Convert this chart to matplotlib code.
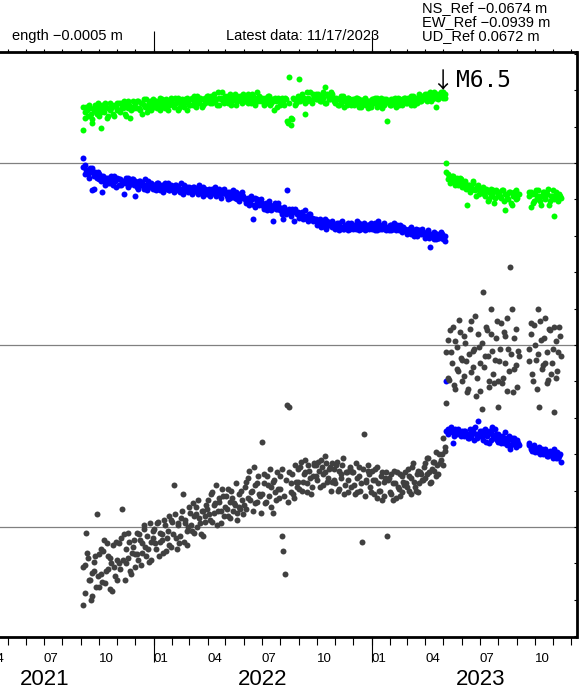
import numpy as np
import pandas as pd
import matplotlib
matplotlib.use("Agg")
import matplotlib.pyplot as plt
import matplotlib.dates as mdates
from matplotlib.ticker import NullFormatter, FuncFormatter
from matplotlib.transforms import blended_transform_factory, offset_copy

plt.rcParams['font.family'] = ['Liberation Sans', 'DejaVu Sans']

# daily solutions, two interleaved every-3rd-day samples
# (values in mm, chart offsets included)
pre_start, pre_start_b = "2021-09-04", "2021-09-05"
post_start, post_start_b = "2023-05-05", "2023-05-06"
late_start, late_start_b = "2023-09-21", "2023-09-22"
quake_day = "2023-05-05"

green_pre = [
    21.8, 22.8, 23.1, 22.6, 23.0, 22.2, 22.9, 23.2, 22.7, 23.0,
    21.9, 23.2, 22.8, 23.1, 22.6, 23.3, 23.0, 22.7, 23.2, 22.9,
    23.3, 22.8, 23.1, 23.4, 22.6, 23.0, 23.2, 22.9, 23.4, 23.1,
    23.0, 23.4, 22.9, 23.3, 23.5, 23.1, 22.8, 23.3, 23.2, 23.5,
    23.1, 23.4, 23.2, 22.9, 23.5, 23.3, 23.0, 23.4, 23.2, 23.6,
    23.5, 23.1, 23.3, 23.6, 23.0, 23.4, 23.2, 23.5, 22.9, 23.3,
    23.2, 23.6, 23.4, 23.1, 23.7, 23.3, 23.5, 23.2, 23.6, 23.4,
    23.7, 23.3, 23.5, 23.8, 23.4, 23.2, 23.6, 23.5, 23.9, 23.3,
    23.4, 23.7, 23.5, 23.2, 23.6, 23.8, 23.4, 23.5, 23.7, 23.3,
    23.6, 23.4, 23.8, 23.5, 23.3, 23.7, 23.5, 23.9, 23.4, 23.6,
    23.5, 23.2, 23.6, 23.4, 23.7, 23.3, 23.5, 22.9, 23.4, 23.6,
    23.2, 23.5, 23.3, 23.6, 22.3, 24.7, 22.1, 22.4, 23.5, 23.3,
    23.4, 24.6, 23.7, 23.5, 22.7, 23.4, 23.6, 23.9, 23.3, 23.7,
    23.8, 23.5, 23.7, 23.4, 23.9, 24.2, 23.3, 23.7, 23.5, 23.8,
    23.6, 23.3, 23.5, 23.2, 23.7, 23.4, 23.1, 23.5, 23.6, 23.3,
    23.2, 23.5, 23.3, 23.6, 23.1, 23.4, 23.2, 23.5, 23.3, 23.0,
    23.4, 23.1, 23.5, 23.3, 23.6, 23.2, 23.4, 23.0, 23.5, 23.3,
    22.3, 23.4, 23.2, 23.5, 23.3, 23.1, 23.6, 23.4, 23.2, 23.5,
    23.6, 23.3, 23.5, 23.7, 23.4, 23.2, 23.6, 23.5, 23.8, 23.4,
    23.5, 23.8, 23.4, 23.7, 23.9, 23.5, 23.6, 23.1, 23.8, 23.7,
    23.9, 23.6, 23.8,
]
green_pre_b = [
    23.1, 22.5, 22.9, 23.2, 22.7, 22.4, 23.0, 22.8, 23.3, 22.6,
    22.8, 23.1, 23.3, 22.5, 23.0, 22.9, 23.2, 22.6, 23.1, 23.3,
    22.9, 23.3, 23.0, 22.7, 23.2, 23.4, 22.5, 23.1, 23.0, 23.3,
    23.4, 23.0, 23.3, 22.7, 23.2, 23.5, 23.1, 23.4, 22.9, 23.2,
    23.4, 23.0, 23.3, 23.6, 23.1, 23.2, 23.5, 22.9, 23.3, 23.4,
    23.2, 23.6, 23.4, 22.9, 23.3, 23.5, 23.1, 23.4, 23.6, 23.2,
    23.5, 23.2, 23.7, 23.4, 23.3, 23.6, 23.1, 23.5, 23.3, 23.7,
    23.4, 23.7, 23.3, 23.6, 23.5, 23.9, 23.2, 23.6, 23.4, 23.7,
    23.6, 23.3, 23.8, 23.4, 23.5, 23.2, 23.7, 23.6, 23.4, 23.8,
    23.4, 23.7, 23.3, 23.6, 23.8, 23.4, 23.2, 23.6, 23.7, 23.4,
    23.6, 23.4, 23.3, 23.7, 23.2, 23.5, 23.4, 23.6, 23.1, 23.5,
    23.4, 23.6, 23.2, 23.5, 22.2, 23.3, 22.5, 23.6, 23.2, 23.5,
    23.7, 23.4, 23.8, 23.6, 23.3, 23.9, 23.5, 23.4, 23.8, 23.6,
    23.5, 23.8, 23.4, 23.7, 23.6, 23.3, 23.8, 23.5, 23.9, 23.6,
    23.4, 23.6, 23.2, 23.5, 23.3, 23.7, 23.4, 23.2, 23.6, 23.5,
    23.4, 23.2, 23.6, 23.3, 23.5, 23.1, 23.4, 23.6, 23.2, 23.4,
    23.2, 23.5, 23.3, 23.6, 23.1, 23.4, 23.6, 23.3, 23.2, 23.5,
    23.4, 23.2, 23.5, 23.3, 23.6, 23.4, 23.2, 23.5, 23.3, 23.6,
    23.3, 23.6, 23.4, 23.2, 23.7, 23.5, 23.3, 23.6, 23.4, 23.7,
    23.7, 23.5, 23.8, 23.6, 23.4, 23.7, 23.9, 23.6, 23.5, 23.8,
    23.7, 23.9, 23.6,
]
green_post = [
    20.0, 19.4, 19.2, 19.0, 19.3, 18.9, 19.1, 18.8, 19.2, 18.9,
    18.7, 19.0, 17.7, 18.8, 18.5, 18.9, 18.6, 18.2, 18.8, 18.5,
    18.4, 18.7, 18.2, 18.5, 18.0, 18.6, 18.3, 17.8, 18.5, 18.2,
    18.4, 18.1, 18.5, 17.4, 18.3, 18.0, 18.4, 17.7, 18.2, 18.5,
    18.1, 18.3,
]
green_post_b = [
    19.5, 19.1, 18.9, 19.3, 19.0, 18.8, 19.2, 18.9, 19.1, 18.7,
    18.9, 18.6, 18.8, 18.4, 18.7, 19.0, 18.5, 18.7, 18.3, 18.6,
    18.5, 18.3, 18.6, 17.9, 18.4, 18.2, 18.5, 18.1, 18.4, 18.3,
    18.2, 18.5, 17.9, 18.3, 18.1, 18.4, 17.8, 18.2, 18.4, 18.0,
    18.3,
]
green_late = [
    18.4, 17.6, 18.3, 17.9, 18.5, 18.0, 18.2, 17.7, 18.4, 18.1,
    18.3, 18.6, 17.9, 18.2, 17.1, 18.4, 18.0, 18.3, 18.1,
]
green_late_b = [
    18.2, 18.4, 17.8, 18.3, 18.1, 18.5, 17.9, 18.2, 18.4, 18.0,
    18.3, 17.7, 18.2, 18.5, 18.0, 18.3, 17.9, 18.2,
]

blue_pre = [
    20.3, 19.9, 19.6, 19.4, 19.7, 18.5, 19.3, 19.5, 19.2, 19.4,
    19.3, 18.4, 19.0, 19.2, 18.9, 19.1, 19.3, 18.8, 19.0, 19.2,
    18.8, 19.1, 18.9, 18.3, 19.0, 19.2, 18.8, 18.9, 19.1, 18.2,
    18.9, 18.6, 19.0, 18.8, 18.7, 19.1, 18.5, 18.9, 18.8, 18.6,
    18.8, 18.5, 18.9, 18.6, 18.7, 18.4, 18.9, 18.7, 18.5, 18.8,
    18.7, 18.4, 18.8, 18.5, 18.6, 18.9, 18.3, 18.6, 18.7, 18.4,
    18.6, 18.3, 18.7, 18.5, 18.4, 18.8, 18.5, 18.2, 18.6, 18.5,
    18.5, 18.2, 18.6, 18.4, 18.7, 18.3, 18.5, 18.1, 18.4, 18.6,
    18.3, 18.0, 18.4, 18.2, 18.5, 18.1, 18.3, 17.9, 18.2, 18.4,
    18.1, 17.8, 18.0, 17.7, 18.2, 16.9, 17.6, 18.0, 17.8, 17.9,
    17.8, 17.5, 17.7, 17.4, 17.9, 17.6, 16.8, 17.7, 17.5, 17.8,
    17.5, 17.2, 16.9, 17.3, 18.5, 17.4, 17.1, 17.5, 16.8, 17.3,
    17.3, 17.0, 17.2, 16.9, 17.4, 17.1, 16.8, 17.2, 17.0, 16.9,
    16.9, 16.6, 16.8, 16.5, 16.7, 16.9, 16.4, 16.7, 16.6, 16.8,
    16.6, 16.4, 16.7, 16.3, 16.5, 16.8, 16.4, 16.6, 16.3, 16.5,
    16.7, 16.4, 16.5, 16.8, 16.3, 16.6, 16.5, 16.7, 16.4, 16.6,
    16.4, 16.7, 16.5, 16.3, 16.6, 16.8, 16.4, 16.5, 16.7, 16.4,
    16.5, 16.3, 16.6, 16.4, 16.7, 16.3, 16.5, 16.6, 16.2, 16.5,
    16.4, 16.1, 16.3, 16.5, 16.2, 16.0, 16.4, 16.2, 16.3, 16.1,
    16.2, 15.9, 16.1, 16.3, 15.4, 16.0, 16.2, 15.8, 16.1, 15.9,
    16.2, 15.8, 16.0,
]
blue_pre_b = [
    19.8, 19.4, 19.6, 19.2, 19.5, 19.7, 18.6, 19.3, 19.5, 19.1,
    19.0, 19.3, 18.8, 19.1, 19.2, 18.9, 19.0, 19.3, 18.7, 19.1,
    19.1, 18.8, 19.0, 18.9, 19.2, 18.7, 18.9, 19.1, 18.8, 19.0,
    18.7, 19.0, 18.8, 18.9, 18.6, 18.8, 19.0, 18.7, 18.9, 18.8,
    18.6, 18.9, 18.7, 18.5, 18.8, 18.7, 18.6, 18.9, 18.5, 18.7,
    18.5, 18.8, 18.6, 18.7, 18.4, 18.6, 18.8, 18.5, 18.6, 18.7,
    18.4, 18.7, 18.5, 18.6, 18.3, 18.6, 18.4, 18.7, 18.5, 18.3,
    18.6, 18.3, 18.5, 18.4, 18.2, 18.5, 18.6, 18.3, 18.5, 18.4,
    18.2, 18.4, 18.1, 18.3, 18.2, 18.4, 18.0, 18.3, 18.1, 18.2,
    18.0, 17.9, 18.1, 17.8, 18.0, 17.7, 18.1, 17.9, 17.7, 18.0,
    17.7, 17.6, 17.8, 17.5, 17.7, 17.4, 17.6, 17.8, 17.5, 17.6,
    17.4, 17.3, 17.6, 17.2, 17.4, 17.5, 17.2, 17.3, 17.5, 17.2,
    17.2, 17.1, 17.3, 17.0, 17.1, 16.9, 17.2, 17.0, 16.8, 16.9,
    16.8, 16.7, 16.9, 16.6, 16.7, 16.5, 16.8, 16.6, 16.7, 16.5,
    16.5, 16.6, 16.4, 16.7, 16.5, 16.4, 16.6, 16.5, 16.7, 16.4,
    16.5, 16.6, 16.4, 16.5, 16.7, 16.4, 16.6, 16.3, 16.5, 16.6,
    16.6, 16.4, 16.5, 16.7, 16.3, 16.5, 16.6, 16.4, 16.5, 16.3,
    16.4, 16.6, 16.3, 16.5, 16.4, 16.6, 16.3, 16.4, 16.5, 16.3,
    16.3, 16.2, 16.4, 16.1, 16.3, 16.2, 16.0, 16.3, 16.2, 16.4,
    16.1, 16.0, 16.2, 15.9, 16.1, 16.0, 15.8, 16.1, 15.9, 16.0,
    16.1, 15.9, 15.7,
]
blue_post = [
    8.0, 5.4, 5.2, 5.5, 4.6, 5.3, 5.1, 5.4, 5.2, 5.3,
    5.0, 5.3, 5.1, 4.9, 5.2, 5.4, 4.8, 5.1, 5.8, 5.0,
    5.3, 4.8, 5.4, 5.0, 4.6, 5.2, 5.5, 4.9, 5.1, 4.7,
    5.0, 4.6, 4.9, 5.2, 4.5, 4.8, 4.3, 4.9, 4.6, 4.4,
    4.8, 4.5,
]
blue_post_b = [
    5.3, 5.1, 5.4, 5.2, 5.0, 5.4, 5.2, 5.3, 5.0, 5.2,
    5.3, 5.1, 4.9, 5.4, 5.0, 5.2, 5.5, 4.9, 5.1, 5.3,
    5.0, 5.2, 4.7, 5.1, 5.3, 4.8, 5.0, 5.4, 4.8, 5.1,
    4.8, 5.0, 4.6, 4.9, 4.7, 5.0, 4.5, 4.7, 4.9, 4.5,
    4.6,
]
blue_late = [
    4.6, 4.4, 4.2, 4.5, 4.3, 4.1, 4.4, 4.2, 4.0, 4.3,
    4.1, 3.9, 4.2, 4.0, 4.3, 3.8, 4.1, 3.9, 3.6,
]
blue_late_b = [
    4.5, 4.3, 4.4, 4.1, 4.3, 4.2, 4.0, 4.3, 4.1, 4.2,
    3.9, 4.1, 4.0, 3.8, 4.1, 3.9, 3.8, 4.0,
]

gray_pre = [
    -4.3, -2.1, -0.3, -1.7, -2.9, -3.8, -2.4, -1.6, 0.7, -3.3,
    -1.2, -3.0, -0.7, -2.4, -1.6, -3.4, -2.0, -1.0, -2.7, -1.8,
    -0.9, -2.3, 1.0, -0.4, -2.0, -1.7, -0.8, -2.6, -1.1, -1.5,
    -0.3, -1.8, -0.7, -1.4, 0.1, -1.1, -0.5, -1.9, -0.8, -0.2,
    -0.1, -1.2, 0.3, -0.8, -0.4, -1.4, 0.1, -0.6, -1.0, 0.4,
    0.3, 2.3, -0.6, 0.1, -0.9, 0.5, 1.8, 0.2, -1.0, 0.0,
    0.8, -0.2, 0.6, 1.1, 0.0, 0.5, -0.4, 0.9, 0.3, 1.2,
    1.5, 0.4, 1.9, 0.8, 1.3, 0.1, 1.6, 0.9, 2.1, 0.6,
    1.7, 0.6, 1.4, 2.0, 0.9, 1.2, 0.4, 1.8, 1.0, 1.5,
    1.2, 2.5, 1.6, 3.1, 1.9, 0.9, 2.3, 1.4, 2.8, 1.7,
    4.7, 2.4, 1.3, 2.8, 1.7, 2.2, 0.8, 2.6, 1.5, 2.1,
    2.8, -0.5, -1.3, -2.6, 6.7, 6.6, 1.9, 2.9, 1.6, 2.5,
    3.2, 2.1, 3.6, 2.5, 3.0, 1.9, 3.4, 2.7, 2.2, 3.5,
    3.4, 2.6, 3.1, 3.7, 2.3, 3.0, 3.5, 2.7, 3.3, 2.5,
    3.2, 2.4, 3.6, 2.1, 2.9, 3.4, 1.8, 3.0, 2.6, 3.3,
    2.2, 3.0, 1.8, 2.7, 3.3, 2.0, -0.8, 5.1, 2.5, 3.1,
    2.9, 1.9, 2.6, 3.2, 1.6, 2.4, 2.0, 3.0, 1.7, 2.7,
    -0.5, 2.7, 1.8, 2.4, 3.1, 1.6, 2.2, 2.9, 1.9, 2.5,
    3.0, 2.2, 2.8, 1.8, 3.3, 2.5, 2.0, 3.1, 2.4, 2.9,
    2.6, 3.5, 2.9, 3.8, 2.4, 3.2, 3.6, 2.8, 3.4, 4.0,
    3.7, 4.9, 4.2,
]
gray_pre_b = [
    -2.2, -3.6, -1.4, -2.9, -4.0, -2.5, -1.9, -3.3, -2.7, -1.5,
    -2.6, -1.3, -3.1, -0.9, -2.3, -1.7, -3.5, -2.2, -0.8, -2.9,
    -2.0, -0.6, -1.8, -2.9, -1.2, -0.3, -2.4, -1.4, -0.7, -2.2,
    -1.5, -0.4, -2.1, -0.9, -0.1, -1.6, -1.2, 0.2, -1.8, -0.6,
    -0.9, 0.2, -1.6, -0.3, -0.7, 0.4, -1.3, -0.2, 0.6, -1.1,
    -0.4, 0.7, -1.2, 0.2, -0.5, 0.9, -0.8, 0.4, -0.2, 1.1,
    0.1, 1.3, -0.3, 0.7, 1.5, 0.2, 0.9, -0.5, 0.6, 1.0,
    0.7, 1.8, 0.3, 1.2, 2.3, 0.9, 1.4, 0.2, 1.7, 1.1,
    1.0, 2.1, 0.5, 1.6, 1.3, 2.4, 0.8, 1.1, 2.0, 0.7,
    2.2, 1.0, 2.7, 1.5, 2.0, 3.3, 1.3, 2.4, 1.8, 0.8,
    1.8, 2.9, 1.4, 2.3, 3.2, 1.1, 2.5, 1.9, 3.0, 1.6,
    2.1, 3.2, 1.7, 2.6, 1.4, 3.0, 2.4, 1.8, 3.4, 2.2,
    2.5, 3.3, 2.0, 2.9, 3.7, 2.4, 3.1, 1.8, 2.8, 3.4,
    2.8, 3.6, 2.2, 3.3, 2.9, 3.9, 2.5, 3.2, 2.0, 3.5,
    2.6, 3.4, 2.0, 3.1, 2.7, 3.8, 2.3, 3.0, 1.9, 3.2,
    3.0, 2.3, 3.5, 1.9, 2.8, 2.4, 3.2, 1.7, 2.6, 3.4,
    2.2, 3.1, 1.8, 2.6, 3.3, 2.0, 2.8, 1.5, 2.5, 3.0,
    2.6, 1.9, 2.9, 1.5, 2.4, 3.0, 2.1, 1.7, 2.8, 2.3,
    2.4, 3.2, 2.0, 2.7, 3.5, 2.2, 2.9, 1.9, 3.0, 2.6,
    3.3, 2.7, 3.8, 3.0, 2.5, 3.6, 3.1, 4.1, 2.9, 3.5,
    4.0, 3.4, 4.4,
]
gray_post = [
    6.8, 10.3, 8.1, 9.6, 11.0, 7.6, 9.9, 8.6, 10.7, 9.2,
    8.3, 10.1, 7.4, 9.5, 11.3, 8.8, 9.8, 7.2, 10.6, 9.0,
    6.5, 12.9, 9.4, 10.8, 8.0, 12.0, 9.7, 7.9, 10.4, 6.6,
    9.1, 11.2, 8.2, 10.5, 7.5, 9.8, 14.3, 12.0, 8.7, 10.9,
    7.7, 9.4,
]
gray_post_b = [
    9.6, 8.2, 10.8, 9.0, 7.8, 10.2, 8.7, 11.4, 9.3, 8.0,
    10.5, 9.1, 7.6, 10.9, 8.5, 9.7, 11.6, 8.2, 9.9, 7.5,
    10.1, 8.8, 11.0, 9.4, 7.7, 10.6, 8.4, 9.2, 11.3, 8.0,
    9.8, 7.9, 10.7, 9.0, 11.5, 8.6, 9.5, 7.4, 10.4, 8.9,
    9.7,
]
gray_late = [
    9.8, 10.6, 8.4, 11.1, 9.2, 12.0, 6.6, 10.3, 8.9, 11.5,
    9.6, 8.1, 10.8, 9.0, 6.3, 10.2, 8.6, 11.0, 9.4,
]
gray_late_b = [
    9.1, 11.2, 8.0, 10.0, 7.6, 9.5, 11.3, 8.7, 10.4, 9.0,
    7.9, 10.9, 8.4, 9.8, 11.0, 8.2, 9.6, 10.5,
]

header_left = "ength \u22120.0005 m"
header_mid = "Latest data: 11/17/2023"
header_refs = ["NS_Ref \u22120.0674 m", "EW_Ref \u22120.0939 m", "UD_Ref 0.0672 m"]
quake_label = "M6.5"
years = [2021, 2022, 2023]

W, H = 579, 691
fig = plt.figure(figsize=(W / 100, H / 100), dpi=100)
ax = fig.add_axes([-20.5 / W, (H - 637) / H, 597 / W, 585 / H])

dot = dict(ls="none", marker="o", ms=4.3, mew=0)
series = [
    ("#0000ff", [blue_pre, blue_pre_b, blue_post, blue_post_b, blue_late, blue_late_b]),
    ("#00ff00", [green_pre, green_pre_b, green_post, green_post_b, green_late, green_late_b]),
    ("#404040", [gray_pre, gray_pre_b, gray_post, gray_post_b, gray_late, gray_late_b]),
]
starts = [pre_start, pre_start_b, post_start, post_start_b, late_start, late_start_b]
for col, parts in series:
    for start, vals in zip(starts, parts):
        dates = pd.date_range(start, periods=len(vals), freq="3D")
        ax.plot(dates, vals, color=col, **dot)

for v in (0, 10, 20):
    ax.axhline(v, color="#808080", lw=0.9, zorder=0)

ax.set_xlim(pd.Timestamp("2021-03-15"), pd.Timestamp("2023-12-10"))
ax.set_ylim(-6.04, 26.1)

for side in ("top", "bottom", "right"):
    ax.spines[side].set_linewidth(2.0)
ax.spines["left"].set_visible(False)

ax.yaxis.tick_right()
ax.set_yticks(np.arange(-6, 27, 2))
ax.tick_params(axis="y", direction="in", length=2.5, width=0.8,
               labelright=False, labelleft=False)


def month_label(v, pos):
    d = mdates.num2date(v)
    return d.strftime("%m") if d.month in (1, 4, 7, 10) else ""


ax.xaxis.set_major_locator(mdates.YearLocator())
ax.xaxis.set_minor_locator(mdates.MonthLocator())
ax.xaxis.remove_overlapping_locs = False
ax.xaxis.set_major_formatter(NullFormatter())
ax.xaxis.set_minor_formatter(FuncFormatter(month_label))
ax.tick_params(axis="x", which="major", length=18, width=0.8)
ax.tick_params(axis="x", which="minor", length=5.8, width=0.8, pad=6.0,
               labelsize=9.5)
plt.setp(ax.xaxis.get_minorticklabels(), ha="left")

top = ax.twiny()
top.set_xlim(ax.get_xlim())
top.xaxis.set_major_locator(mdates.YearLocator())
top.xaxis.set_minor_locator(mdates.MonthLocator())
top.xaxis.remove_overlapping_locs = False
top.xaxis.set_major_formatter(NullFormatter())
top.xaxis.set_minor_formatter(NullFormatter())
top.tick_params(axis="x", which="major", length=15, width=0.8)
top.tick_params(axis="x", which="minor", length=2.2, width=0.8)
for s in top.spines.values():
    s.set_visible(False)

trans = blended_transform_factory(ax.transData, fig.transFigure)
for yr in years:
    ax.text(mdates.date2num(pd.Timestamp(f"{yr}-07-02")), 1 / H, str(yr),
            transform=trans, ha="center", va="bottom", fontsize=16,
            clip_on=False)

qx = mdates.date2num(pd.Timestamp(quake_day))
ax.text(qx, 1 - 88 / H, "\u2193", transform=offset_copy(trans, fig=fig, x=-2.5, units="points"),
        ha="center", va="baseline", fontsize=16, family=["Noto Sans CJK JP", "DejaVu Sans"])
ax.text(qx, 1 - 87 / H, quake_label, transform=offset_copy(trans, fig=fig, x=7.5, units="points"),
        ha="left", va="baseline", fontsize=16.5, family="DejaVu Sans Mono")

fig.text(12 / W, 1 - 40 / H, header_left, fontsize=10.5, va="baseline")
fig.text(226.5 / W, 1 - 40 / H, header_mid, fontsize=10.5, va="baseline")
for i, s in enumerate(header_refs):
    fig.text(422 / W, 1 - (12 + 14 * i) / H, s, fontsize=10.5, va="baseline")

fig.savefig("out.png", dpi=100)
